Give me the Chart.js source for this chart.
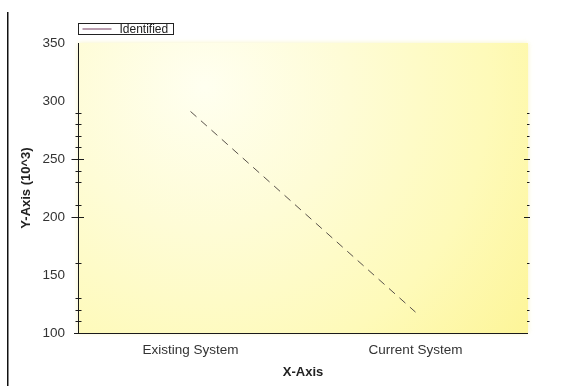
<!DOCTYPE html>
<html>
<head>
<meta charset="utf-8">
<script src="https://cdn.jsdelivr.net/npm/chart.js@4/dist/chart.umd.min.js"></script>
<style>
  html, body { margin: 0; padding: 0; background: #fff; }
  #wrap { position: relative; width: 584px; height: 386px; }
</style>
</head>
<body>
<div id="wrap"><canvas id="c" width="584" height="386"></canvas></div>
<script>
// Categories and series values
const categories = ['Existing System', 'Current System'];
const identified = [291, 118];

// Labelled y ticks and the small tick marks along both vertical edges
const yLabelValues = [100, 150, 200, 250, 300, 350];
const minorTickValues = [110, 120, 130, 160, 210, 230, 240, 260, 270, 280, 290];
const majorTickValues = [200, 250];

const FONT = "'Liberation Sans', Arial, sans-serif";

// Plot background: cream glow near the upper left fading to yellow
const plotBackground = {
  id: 'plotBackground',
  beforeDraw(chart) {
    const { ctx, chartArea: a } = chart;
    const w = a.right - a.left, h = a.bottom - a.top;
    const cx = a.left + 0.28 * w, cy = a.top + 0.15 * h;
    const r = Math.hypot(a.right - cx, a.bottom - cy);
    const g = ctx.createRadialGradient(cx, cy, 0, cx, cy, r);
    g.addColorStop(0, '#fffff0');
    g.addColorStop(0.35, '#fefcd6');
    g.addColorStop(0.7, '#fefab9');
    g.addColorStop(1, '#fdf598');
    ctx.save();
    ctx.shadowColor = 'rgba(245, 240, 170, 0.7)';
    ctx.shadowBlur = 5;
    ctx.fillStyle = g;
    ctx.fillRect(a.left, a.top, w, h);
    ctx.restore();

    // left frame rule
    ctx.save();
    ctx.fillStyle = '#111';
    ctx.fillRect(7, 12, 1.5, chart.height - 12);
    ctx.restore();
  }
};

// Axis lines, tick marks and the boxed legend
const axisDecor = {
  id: 'axisDecor',
  afterDraw(chart) {
    const { ctx, chartArea: a } = chart;
    const y = chart.scales.y;
    ctx.save();
    ctx.strokeStyle = '#1a1a1a';
    ctx.lineWidth = 1;
    ctx.beginPath();
    // left axis
    ctx.moveTo(a.left + 0.5, a.top);
    ctx.lineTo(a.left + 0.5, a.bottom);
    // bottom axis
    ctx.moveTo(a.left - 4, a.bottom + 0.5);
    ctx.lineTo(a.right, a.bottom + 0.5);
    ctx.stroke();

    ctx.beginPath();
    minorTickValues.forEach(v => {
      const py = Math.round(y.getPixelForValue(v)) + 0.5;
      ctx.moveTo(a.left - 2.5, py); ctx.lineTo(a.left + 3.5, py);
      ctx.moveTo(a.right - 1, py); ctx.lineTo(a.right + 1.5, py);
    });
    majorTickValues.forEach(v => {
      const py = Math.round(y.getPixelForValue(v)) + 0.5;
      ctx.moveTo(a.left - 6.5, py); ctx.lineTo(a.left + 6, py);
      ctx.moveTo(a.right - 4, py); ctx.lineTo(a.right + 2, py);
    });
    ctx.stroke();

    // legend
    const lx = a.left + 0.5, ly = a.top - 19.5;
    ctx.fillStyle = '#ffffff';
    ctx.fillRect(lx, ly, 95, 11);
    ctx.strokeStyle = '#222';
    ctx.strokeRect(lx, ly, 95, 11);
    ctx.strokeStyle = '#8a5a78';
    ctx.lineWidth = 1.2;
    ctx.beginPath();
    ctx.moveTo(lx + 4, ly + 5.5);
    ctx.lineTo(lx + 33, ly + 5.5);
    ctx.stroke();
    ctx.fillStyle = '#222';
    ctx.font = '12px ' + FONT;
    ctx.textBaseline = 'middle';
    ctx.textAlign = 'left';
    ctx.fillText(chart.data.datasets[0].label, lx + 41, ly + 6);
    ctx.restore();
  }
};

new Chart(document.getElementById('c'), {
  type: 'line',
  data: {
    labels: categories,
    datasets: [{
      label: 'Identified',
      data: identified,
      borderColor: '#58514a',
      borderWidth: 1,
      borderDash: [8, 6],
      pointRadius: 0,
      tension: 0,
      fill: false
    }]
  },
  options: {
    responsive: false,
    animation: false,
    devicePixelRatio: 1,
    layout: { padding: { left: 0, right: 56, top: 43, bottom: 0 } },
    plugins: { legend: { display: false }, tooltip: { enabled: false } },
    scales: {
      x: {
        type: 'category',
        offset: true,
        grid: { display: false, drawTicks: false },
        border: { display: false },
        ticks: { font: { family: FONT, size: 13.5 }, color: '#333', padding: 9, maxRotation: 0 },
        title: {
          display: true, text: 'X-Axis', color: '#222',
          font: { family: FONT, size: 13, weight: 'bold' },
          padding: { top: 2, bottom: 6 }
        },
        afterFit(s) { s.height = 53; }
      },
      y: {
        min: 100,
        max: 350,
        grid: { display: false, drawTicks: false },
        border: { display: false },
        afterBuildTicks(s) { s.ticks = yLabelValues.map(v => ({ value: v })); },
        ticks: { font: { family: FONT, size: 13.5 }, color: '#333', padding: 13 },
        title: {
          display: true, text: 'Y-Axis (10^3)', color: '#222',
          font: { family: FONT, size: 13, weight: 'bold' },
          padding: { top: 19, bottom: 0 }
        },
        afterFit(s) { s.width = 78; }
      }
    }
  },
  plugins: [plotBackground, axisDecor]
});
</script>
</body>
</html>
